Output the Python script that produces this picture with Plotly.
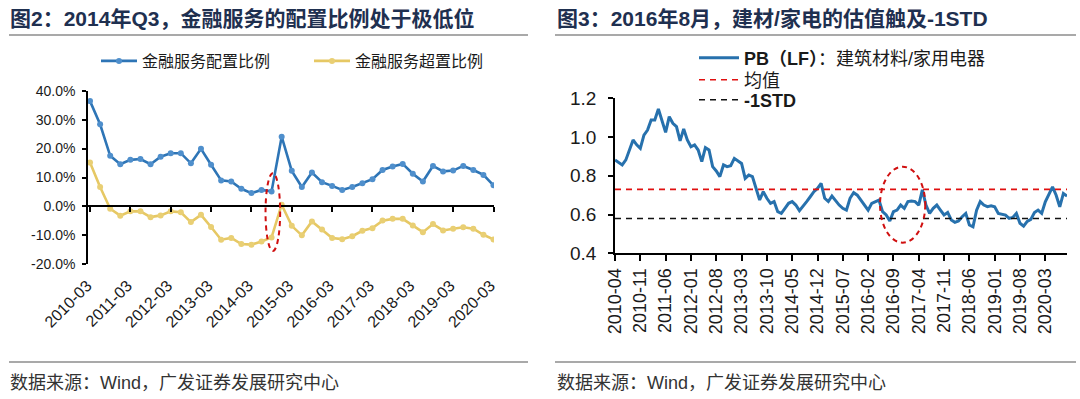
import plotly.graph_objects as go

W, H = 1080, 399

# ---------------- data: left chart (quarterly, %) ----------------
quarters = [f"{y}-{m:02d}" for y in range(2010, 2021) for m in (3, 6, 9, 12)][:41]
left_ticks = quarters[::4]
alloc_ratio = [36.4, 28.4, 17.5, 14.6, 16.1, 16.4, 14.6, 17.2, 18.4, 18.4,
               14.9, 19.9, 14.4, 9.0, 8.6, 6.1, 4.6, 5.7, 5.2, 24.1,
               12.3, 6.7, 11.7, 8.4, 7.1, 5.7, 6.7, 8.0, 9.4, 12.6,
               13.8, 14.7, 11.3, 8.6, 14.0, 12.1, 12.4, 14.0, 12.6, 10.9, 7.3]
over_ratio = [15.2, 6.7, -0.8, -3.2, -1.7, -1.7, -3.7, -3.1, -1.7, -2.0,
              -5.4, -2.9, -7.1, -11.5, -10.9, -13.0, -13.2, -12.1, -10.7, 0.6,
              -6.7, -10.0, -5.2, -8.0, -10.9, -11.3, -10.3, -8.4, -7.5, -4.9,
              -4.3, -4.3, -6.6, -8.9, -6.1, -8.3, -7.7, -7.2, -7.7, -9.8, -11.4]
left_yvals = [-20, -10, 0, 10, 20, 30, 40]
left_ytext = ["-20.0%", "-10.0%", "0.0%", "10.0%", "20.0%", "30.0%", "40.0%"]

# ---------------- data: right chart (monthly PB) ----------------
months = [f"{2010 + (3 + k) // 12}-{(3 + k) % 12 + 1:02d}" for k in range(126)]
right_ticks = months[::7]
pb = [0.882, 0.868, 0.856, 0.882, 0.933, 0.985, 0.960, 0.942, 1.010, 1.036,
      1.088, 1.088, 1.145, 1.088, 1.024, 1.105, 1.071, 1.054, 0.980, 1.042,
      0.985, 0.950, 0.959, 0.933, 0.873, 0.945, 0.933, 0.847, 0.825, 0.796,
      0.856, 0.847, 0.852, 0.890, 0.878, 0.864, 0.787, 0.804, 0.796, 0.735,
      0.675, 0.718, 0.684, 0.658, 0.667, 0.615, 0.606, 0.632, 0.658, 0.667,
      0.649, 0.620, 0.641, 0.667, 0.692, 0.718, 0.735, 0.761, 0.684, 0.667,
      0.696, 0.670, 0.649, 0.632, 0.623, 0.684, 0.713, 0.700, 0.675, 0.649,
      0.623, 0.658, 0.667, 0.675, 0.615, 0.598, 0.567, 0.615, 0.623, 0.649,
      0.632, 0.667, 0.670, 0.667, 0.649, 0.727, 0.649, 0.606, 0.632, 0.649,
      0.623, 0.598, 0.611, 0.572, 0.560, 0.567, 0.589, 0.606, 0.546, 0.537,
      0.623, 0.667, 0.649, 0.641, 0.645, 0.640, 0.606, 0.600, 0.597, 0.580,
      0.585, 0.606, 0.555, 0.540, 0.565, 0.575, 0.610, 0.623, 0.606, 0.666,
      0.709, 0.743, 0.700, 0.640, 0.709, 0.695]
pb_mean = 0.73
pb_minus_std = 0.58
right_yvals = [0.4, 0.6, 0.8, 1.0, 1.2]

NUM = "Liberation Sans, Arial, Noto Sans CJK SC"
CJK = "Liberation Sans, Noto Sans CJK SC"
BLUE = "#2E75B6"
GOLD = "#E6C864"


def px_x(p):
    return p / W


def px_y(p):
    return 1 - p / H


fig = go.Figure()

fig.add_trace(go.Scatter(
    x=quarters, y=alloc_ratio, name="金融服务配置比例", mode="lines+markers",
    line=dict(color=BLUE, width=2.6), marker=dict(color="#4F8FCC", size=6),
    xaxis="x", yaxis="y", legend="legend"))
fig.add_trace(go.Scatter(
    x=quarters, y=over_ratio, name="金融服务超置比例", mode="lines+markers",
    line=dict(color=GOLD, width=2.6), marker=dict(color="#E9CF74", size=6),
    xaxis="x", yaxis="y", legend="legend"))

fig.add_trace(go.Scatter(
    x=months, y=pb, name="<b>PB（LF）</b>：建筑材料/家用电器", mode="lines",
    line=dict(color="#2771AD", width=3), xaxis="x2", yaxis="y2", legend="legend2"))
fig.add_trace(go.Scatter(
    x=months, y=[pb_mean] * len(months), name="均值", mode="lines",
    line=dict(color="#E01010", width=1.6, dash="6px,5px"),
    xaxis="x2", yaxis="y2", legend="legend3"))
fig.add_trace(go.Scatter(
    x=months, y=[pb_minus_std] * len(months), name="<b>-1STD</b>", mode="lines",
    line=dict(color="#111111", width=1.6, dash="6px,5px"),
    xaxis="x2", yaxis="y2", legend="legend4"))

ly0, ly1 = px_y(264.3), px_y(90.7)
zero_pos = ly0 + (ly1 - ly0) * (0 - (-20)) / (40 - (-20))


def right_legend(row_y):
    return dict(orientation="v", x=px_x(694), y=px_y(row_y), xanchor="left",
                yanchor="middle", font=dict(family=CJK, size=18, color="#1a1a1a"),
                bgcolor="rgba(0,0,0,0)", itemwidth=40, itemclick=False)


fig.update_layout(
    width=W, height=H, margin=dict(l=0, r=0, t=0, b=0, autoexpand=False),
    paper_bgcolor="white", plot_bgcolor="white", showlegend=True,
    font=dict(family=CJK, color="#1a1a1a"),
    xaxis=dict(domain=[px_x(88), px_x(494)], type="category", range=[-0.2, 40.05],
               anchor="free", position=zero_pos, showline=True, linecolor="black",
               linewidth=1.5, ticks="outside", ticklen=5, tickwidth=1.5, tickcolor="black",
               tickmode="array", tickvals=left_ticks, ticktext=left_ticks,
               tickangle=-45, tickfont=dict(family=NUM, size=16, color="#1a1a1a"),
               ticklabelstandoff=58, ticklabelshift=-3,
               showgrid=False, zeroline=False, automargin=False),
    yaxis=dict(domain=[ly0, ly1], range=[-20, 40], anchor="x", showline=True,
               linecolor="black", linewidth=1.5, ticks="outside", ticklen=4,
               tickwidth=1.5, tickcolor="black", tickmode="array",
               tickvals=left_yvals, ticktext=left_ytext, ticklabelstandoff=4,
               tickfont=dict(family=NUM, size=14, color="#1a1a1a"),
               showgrid=False, zeroline=False, automargin=False),
    xaxis2=dict(domain=[px_x(615), px_x(1067)], type="category", range=[0, 125],
                anchor="y2", showline=True, linecolor="black", linewidth=1.5,
                ticks="outside", ticklen=6, tickwidth=1.5, tickcolor="black",
                tickmode="array", tickvals=right_ticks, ticktext=right_ticks,
                tickangle=-90, tickfont=dict(family=NUM, size=18, color="#1a1a1a"),
                showgrid=False, zeroline=False, automargin=False),
    yaxis2=dict(domain=[px_y(253.3), px_y(98.3)], range=[0.4, 1.2], anchor="x2",
                showline=True, linecolor="black", linewidth=1.5, ticks="outside",
                ticklen=5, tickwidth=1.5, tickcolor="black", tickmode="array",
                tickvals=right_yvals, tickformat=".1f", ticklabelstandoff=8,
                tickfont=dict(family=NUM, size=19, color="#1a1a1a"),
                showgrid=False, zeroline=False, automargin=False),
    legend=dict(orientation="h", x=px_x(96), y=px_y(61), xanchor="left",
                yanchor="middle", font=dict(family="Noto Sans CJK SC", size=16,
                                            color="#1a1a1a"),
                bgcolor="rgba(0,0,0,0)", entrywidth=162, entrywidthmode="pixels",
                itemwidth=36, itemclick=False),
    legend2=right_legend(58),
    legend3=right_legend(80),
    legend4=right_legend(100),
)

TITLE_C = "#1F3050"
fig.add_annotation(text="<b>图2：2014年Q3，金融服务的配置比例处于极低位</b>",
                   x=px_x(8), y=px_y(18), xref="paper", yref="paper",
                   xanchor="left", yanchor="middle", showarrow=False,
                   font=dict(family=CJK, size=21, color=TITLE_C))
fig.add_annotation(text="<b>图3：2016年8月，建材/家电的估值触及-1STD</b>",
                   x=px_x(555), y=px_y(18), xref="paper", yref="paper",
                   xanchor="left", yanchor="middle", showarrow=False,
                   font=dict(family=CJK, size=21, color=TITLE_C))
for x0 in (8, 555):
    fig.add_annotation(text="数据来源：Wind，广发证券发展研究中心",
                       x=px_x(x0), y=px_y(383), xref="paper", yref="paper",
                       xanchor="left", yanchor="middle", showarrow=False,
                       font=dict(family=CJK, size=18, color="#333333"))

for (a, b) in ((9, 528), (555, 1076)):
    for yy in (35, 362):
        fig.add_shape(type="line", xref="paper", yref="paper",
                      x0=px_x(a), x1=px_x(b), y0=px_y(yy), y1=px_y(yy),
                      line=dict(color="#8C8C8C", width=1.5))

# red dashed ellipses
fig.add_shape(type="circle", xref="x", yref="y", x0=17.4, x1=18.85, y0=-15.4, y1=11.5,
              line=dict(color="#D01010", width=2, dash="5px,4px"))
fig.add_shape(type="circle", xref="x2", yref="y2", x0=73.3, x1=85.8, y0=0.455, y1=0.847,
              line=dict(color="#D01010", width=2, dash="5px,4px"))

fig.write_html("out.html", config={"displayModeBar": False},
               post_script="document.body.style.margin='0';document.body.style.overflow='hidden';")
